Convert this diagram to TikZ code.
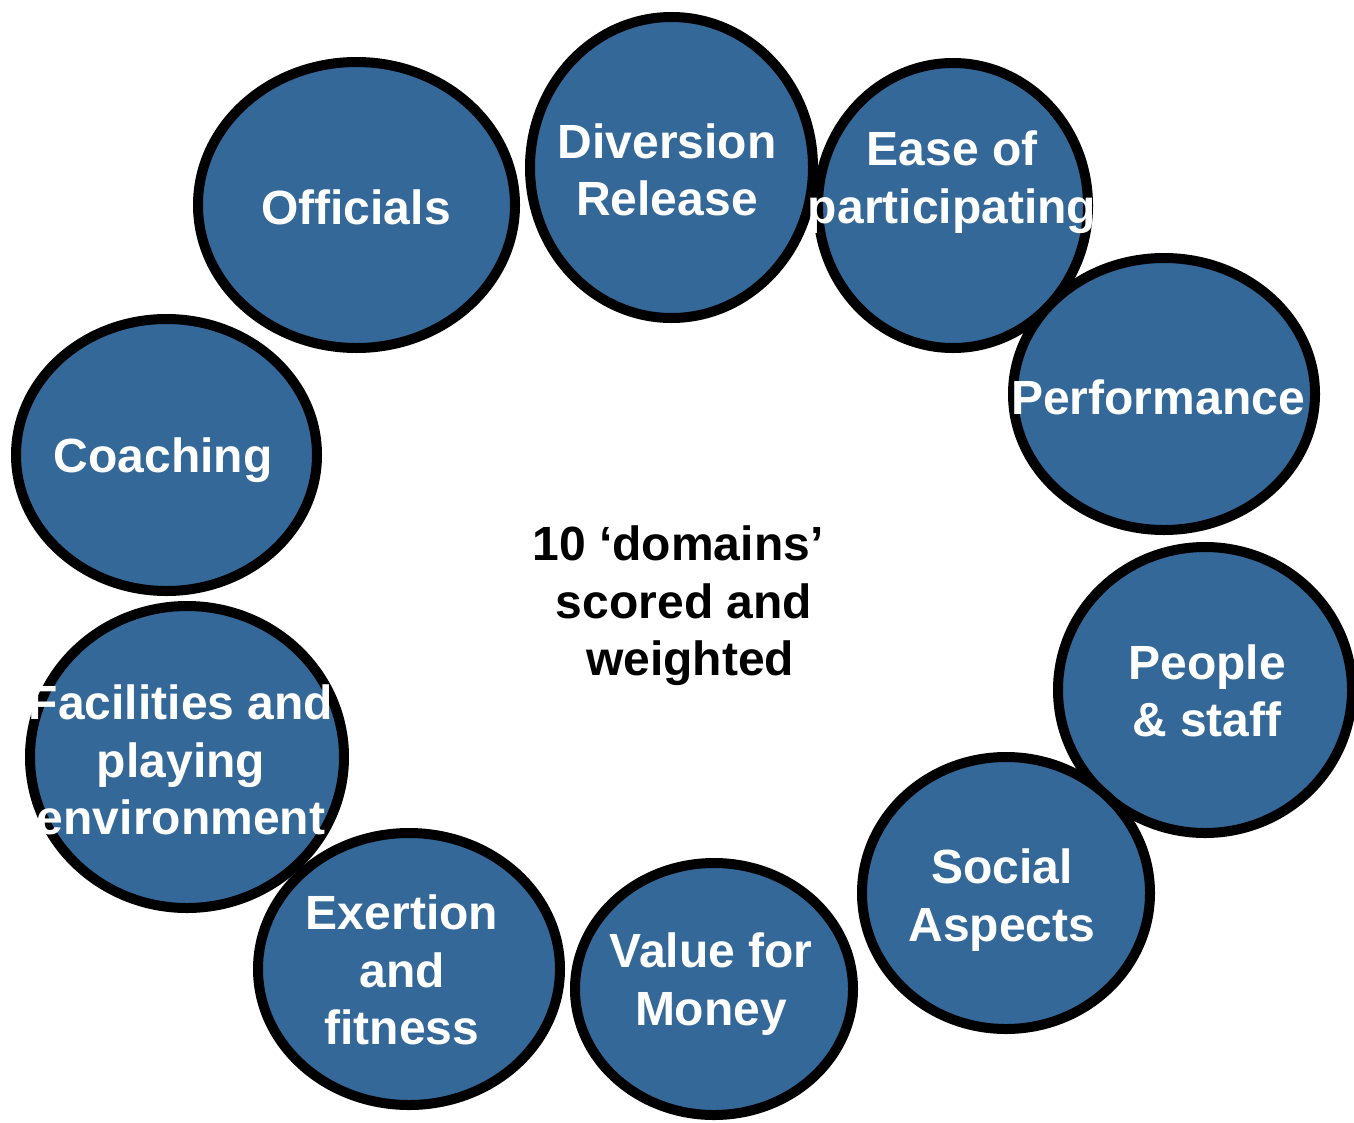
\documentclass[tikz,border=0pt]{standalone}
\usepackage{fontspec}
\setmainfont{Liberation Sans}
\usetikzlibrary{shapes.geometric}
\definecolor{dblue}{HTML}{346899}
\begin{document}
\begin{tikzpicture}[x=1pt,y=-1pt,
  dom/.style={ellipse,draw=black,fill=dblue,line width=10pt,inner sep=0pt},
  lbl/.style={text=white,align=center,font=\fontsize{48}{57.5}\selectfont\bfseries,inner sep=0pt},
  ctr/.style={text=black,align=center,font=\fontsize{48}{57.5}\selectfont\bfseries,inner sep=0pt}]
\useasboundingbox (0,0) rectangle (1354,1122);
\begin{scope}
\clip (0,0) rectangle (1354,1122);
\node[dom,minimum width=301pt,minimum height=272pt] (coach) at (166.5,455) {};
\node[dom,minimum width=317pt,minimum height=286pt] (offi) at (356.5,205) {};
\node[dom,minimum width=283pt,minimum height=301pt] (div) at (671.5,167.5) {};
\node[dom,minimum width=270pt,minimum height=285pt] (ease) at (953,205.5) {};
\node[dom,minimum width=302pt,minimum height=272pt] (perf) at (1164,394) {};
\node[dom,minimum width=294pt,minimum height=286pt] (people) at (1205,690) {};
\node[dom,minimum width=288pt,minimum height=272pt] (social) at (1006,893) {};
\node[dom,minimum width=278pt,minimum height=252pt] (value) at (714,989) {};
\node[dom,minimum width=302pt,minimum height=272pt] (exer) at (409,969) {};
\node[dom,minimum width=314pt,minimum height=302pt] (faci) at (187,757) {};
\end{scope}
\node[lbl] (offi-t) at (356,207) {Officials};
\node[lbl] (div-t) at (667,170) {Diversion\\Release};
\node[lbl] (ease-t) at (952,182) {Ease of\\participating};
\node[lbl] (perf-t) at (1158,397) {Performance};
\node[lbl] (coach-t) at (163,460) {Coaching};
\node[lbl] (people-t) at (1207,691) {People\\\& staff};
\node[lbl] (faci-t) at (181,760) {Facilities and\\playing\\environment};
\node[lbl] (social-t) at (1002,900) {Social\\Aspects};
\node[lbl] (exer-t) at (402,970) {Exertion\\and\\fitness};
\node[lbl] (value-t) at (711,984) {Value for\\Money};
\node[ctr] (center) at (684,606) {\mbox{10 ‘domains’\kern12pt}\\scored and\\\mbox{\kern12pt weighted}};
\end{tikzpicture}
\end{document}
